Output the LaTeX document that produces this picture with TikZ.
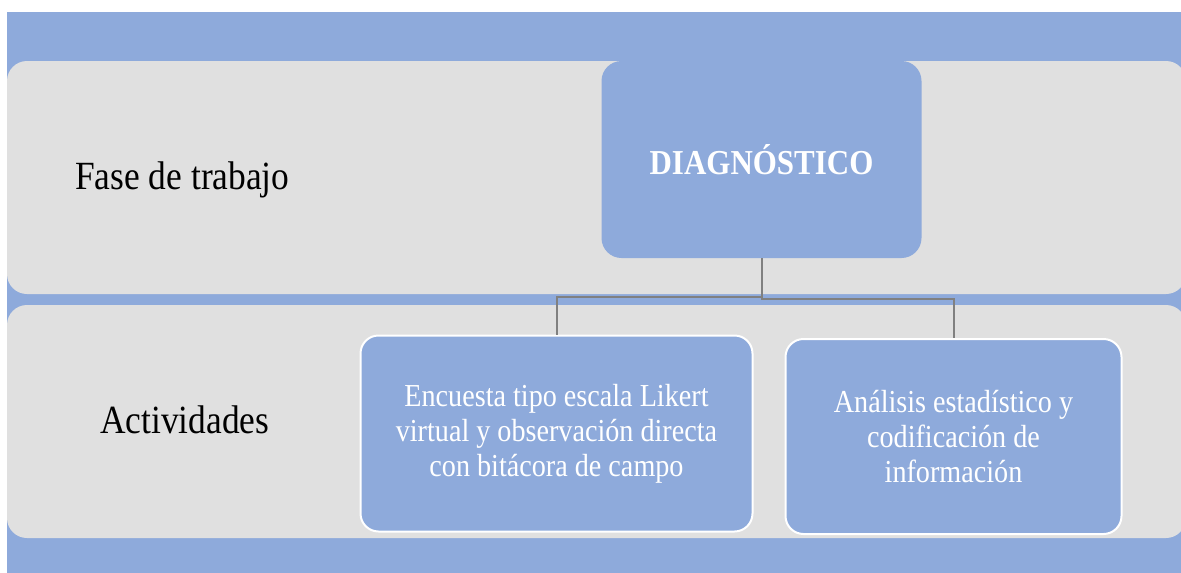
\documentclass[tikz,border=0pt]{standalone}
\usepackage{fontspec}
\setmainfont{Liberation Serif}
\newfontfamily\labfont[FakeStretch=0.885]{Liberation Serif}
\newfontfamily\boxfont[FakeStretch=0.88]{Liberation Serif}
\definecolor{bgblue}{RGB}{142,170,219}
\definecolor{bandgray}{RGB}{224,224,224}
\definecolor{linegray}{RGB}{128,128,128}
\begin{document}
\begin{tikzpicture}[x=1pt,y=-1pt,
  band/.style={fill=bandgray, rounded corners=20pt},
  topbox/.style={fill=bgblue, rounded corners=20pt, minimum width=320pt, minimum height=197pt, inner sep=0pt, text=white, font=\labfont\bfseries\fontsize{35}{40}\selectfont},
  actbox/.style={fill=bgblue, draw=white, line width=2pt, rounded corners=18pt, inner sep=0pt, align=center, text=white, font=\boxfont\fontsize{32}{35}\selectfont},
  rowlabel/.style={anchor=base west, inner sep=0pt, font=\labfont\fontsize{40}{46}\selectfont},
  conn/.style={draw=linegray, line width=2pt}
]
\useasboundingbox (0,0) rectangle (1181,573);
\begin{scope}
\clip (0,0) rectangle (1181,573);
\fill[bgblue] (7,12) rectangle (1181,573);
\path[band] (7,61) rectangle (1186,294);
\path[band] (7,305) rectangle (1186,538);
\end{scope}
\node[rowlabel] (fase) at (75,189) {Fase de trabajo};
\node[rowlabel] (act) at (100,433) {Actividades};
\node[topbox] (diag) at (761.5,159.5) {DIAGNÓSTICO};
\node[actbox, minimum width=392pt, minimum height=196pt] (enc) at (556.5,433.5) {Encuesta tipo escala Likert\\virtual y observación directa\\con bitácora de campo};
\node[actbox, minimum width=336pt, minimum height=195pt] (ana) at (953.5,436.5) {Análisis estadístico y\\codificación de\\información};
\draw[conn] (diag.south) -- ++(0,39) -| (enc.north);
\draw[conn] (diag.south) -- ++(0,41) -| (ana.north);
\end{tikzpicture}
\end{document}
